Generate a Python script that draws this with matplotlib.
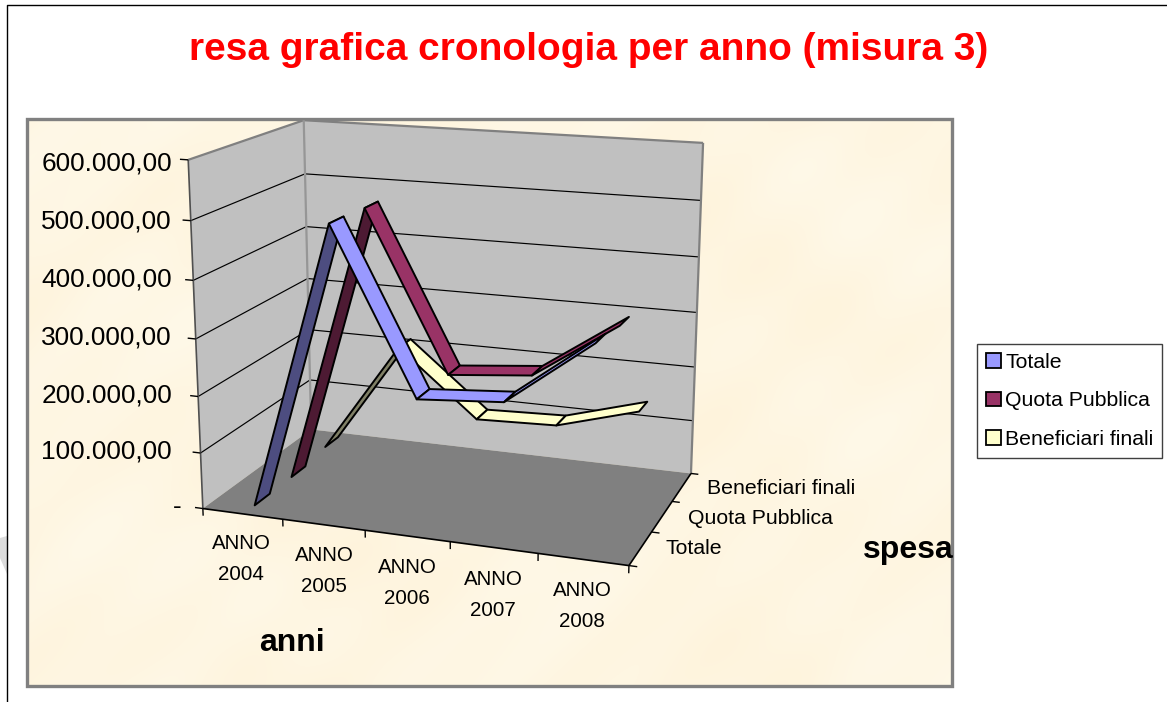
import numpy as np
import matplotlib
matplotlib.use("Agg")
import matplotlib.pyplot as plt
from matplotlib.patches import Patch, Polygon, Rectangle
from mpl_toolkits.mplot3d.art3d import Line3DCollection, Poly3DCollection

plt.rcParams["font.family"] = ["Liberation Sans", "DejaVu Sans"]

title = "resa grafica cronologia per anno (misura 3)"
years = ["ANNO\n2004", "ANNO\n2005", "ANNO\n2006", "ANNO\n2007", "ANNO\n2008"]
series = ["Totale", "Quota Pubblica", "Beneficiari finali"]
totale = [0, 503000, 222000, 233000, 345000]
quota = [0, 500000, 221000, 235000, 335000]
beneficiari = [8000, 215000, 95000, 100000, 142000]
z_ticks = [0, 100000, 200000, 300000, 400000, 500000, 600000]
z_labels = ["-", "100.000,00", "200.000,00", "300.000,00", "400.000,00", "500.000,00", "600.000,00"]

light = ["#9999FF", "#993366", "#FFFFCC"]
dark = ["#4D4D80", "#4D1A33", "#808066"]
half_width = 0.2

W, H = 1167, 702
fig = plt.figure(figsize=(W / 100, H / 100), dpi=100, facecolor="white")

# pixel layer for everything that is flat on the page
bg = fig.add_axes([0, 0, 1, 1], zorder=0)
bg.axis("off")

bg.plot([6.5, 6.5, W], [H, 5, 5], color="black", lw=1)
bg.add_patch(Polygon([(0, 538), (7, 536), (7, 574), (0, 558)], color="#dcdcdc", lw=0))

# paper texture of the chart area
yy, xx = np.mgrid[0:284, 0:462]
mottle = (np.sin(xx / 31 + np.sin(yy / 23)) + np.sin(yy / 17 + np.sin(xx / 41) * 2)
          + 0.6 * np.sin((xx + yy) / 9)) / 2.6
paper = np.dstack([254.5 + mottle * 0.5, 246 + mottle * 2.5, 226 + mottle * 6]) / 255
bg.imshow(np.clip(paper, 0, 1), extent=(27, 952, 686, 119), aspect="auto", interpolation="bilinear")
bg.set_xlim(0, W)
bg.set_ylim(H, 0)
bg.add_patch(Rectangle((27, 119), 925, 567, fill=False, edgecolor="#808080", lw=2.4))

bg.text(589, 50, title, color="#FF0000", fontsize=28, fontweight="bold", ha="center", va="center")

# 3d layer: square axes, projection fitted to the wall corners of the picture
ax = fig.add_axes([100 / W, 0, H / W, 1], projection="3d", zorder=1, computed_zorder=False)
ax.patch.set_alpha(0)
ax.set_axis_off()
ax.apply_aspect()

corners_world = [(0, 0, 0), (5, 0, 0), (5, 3, 0), (0, 3, 0), (0, 0, 6), (0, 3, 6), (5, 3, 6)]
corners_px = [(203, 508), (629, 566), (691, 473), (311, 430), (188, 160), (304, 120), (703, 143)]
inv = ax.transData.inverted()
rows, rhs = [], []
for (X, Y, Z), (px, py) in zip(corners_world, corners_px):
    u, v = inv.transform((px, H - py))
    rows.append([X, Y, Z, 1, 0, 0, 0, 0, -u * X, -u * Y, -u * Z])
    rows.append([0, 0, 0, 0, X, Y, Z, 1, -v * X, -v * Y, -v * Z])
    rhs += [u, v]
p = np.linalg.lstsq(np.array(rows, float), np.array(rhs, float), rcond=None)[0]
M = np.array([
    [p[0], p[1], p[2] / 1e5, p[3]],
    [p[4], p[5], p[6] / 1e5, p[7]],
    [0.1, 0.13, 1e-7, 0.0],
    [p[8], p[9], p[10] / 1e5, 1.0],
])
ax.get_proj = lambda: M
ax.M = M

order = [0]


def add_face(verts, color, edge="none", lw=0):
    order[0] += 1
    ax.add_collection3d(Poly3DCollection([verts], facecolors=color, edgecolors=edge,
                                         linewidths=lw, zorder=order[0]))


def add_line(xs, ys, zs, color="black", lw=0.9):
    order[0] += 1
    pts = list(zip(xs, ys, zs))
    ax.add_collection3d(Line3DCollection([[a, b] for a, b in zip(pts, pts[1:])], colors=color,
                                         linewidths=lw, zorder=order[0]))


def signed_area(verts):
    pts = M @ np.column_stack([verts, np.ones(len(verts))]).T
    x, y = pts[0] / pts[3], pts[1] / pts[3]
    return 0.5 * np.sum(x * np.roll(y, -1) - np.roll(x, -1) * y)


top = z_ticks[-1]
add_face([(0, 0, 0), (0, 3, 0), (0, 3, top), (0, 0, top)], "#C0C0C0")
add_face([(0, 3, 0), (5, 3, 0), (5, 3, top), (0, 3, top)], "#C0C0C0")
add_face([(0, 0, 0), (5, 0, 0), (5, 3, 0), (0, 3, 0)], "#808080")

for z in z_ticks[1:-1]:
    add_line([0, 0, 5], [0, 3, 3], [z, z, z], lw=0.85)
add_line([0, 0, 5, 5], [0, 3, 3, 3], [top, top, top, 0], color="#808080", lw=1.6)
add_line([0, 0], [3, 3], [0, top], color="#969696", lw=1.6)
add_line([0, 0], [0, 0], [0, top], color="#505050", lw=1.2)

# axis lines and ticks
add_line([0, 5, 5], [0, 0, 3], [0, 0, 0], lw=1.2)
for i in range(6):
    add_line([i, i], [0, 0], [0, -13000], lw=1.0)
for i in range(4):
    add_line([5, 5.09], [i, i], [0, 0], lw=1.0)
for z in z_ticks:
    add_line([0, -0.1], [0, 0], [z, z], lw=1.0)

# ribbons, back series first
for s, values in reversed(list(enumerate([totale, quota, beneficiari]))):
    yf, yb = s + 0.5 - half_width, s + 0.5 + half_width
    for i in range(len(values) - 1):
        x1, x2 = i + 0.5, i + 1.5
        z1, z2 = values[i], values[i + 1]
        quad = [(x1, yf, z1), (x2, yf, z2), (x2, yb, z2), (x1, yb, z1)]
        color = light[s] if signed_area(quad) > 0 else dark[s]
        add_face(quad, color, edge="black", lw=1.4)

# tick labels
for label, y in zip(z_labels[1:], [452, 395, 337, 280, 222, 163]):
    bg.text(172, y, label, fontsize=18.9, ha="right", va="center", color="black")
bg.text(182, 507, z_labels[0], fontsize=18.9, ha="right", va="center", color="black")
for label, x, y in zip(years, [241, 324, 407, 493, 582], [559, 571, 583, 595, 606]):
    bg.text(x, y, label, fontsize=14.8, ha="center", va="center", linespacing=1.76, color="black")
for label, x, y in zip(series, [665, 688, 707], [548, 518, 488]):
    bg.text(x, y, label, fontsize=15.3, ha="left", va="center", color="black")
bg.text(259, 643, "anni", fontsize=23, fontweight="bold", ha="left", va="center")
bg.text(863, 550, "spesa", fontsize=23, fontweight="bold", ha="left", va="center")

handles = [Patch(facecolor=c, edgecolor="black", lw=1.3, label=n) for c, n in zip(light, series)]
bg.legend(handles=handles, loc="upper left", bbox_to_anchor=(977, 344), bbox_transform=bg.transData,
          fontsize=15.3, frameon=True, fancybox=False, framealpha=1, edgecolor="#404040",
          handlelength=0.7, handleheight=0.7, handletextpad=0.2, labelspacing=0.92,
          borderpad=0.42, borderaxespad=0)

fig.savefig("out.png", dpi=100)
